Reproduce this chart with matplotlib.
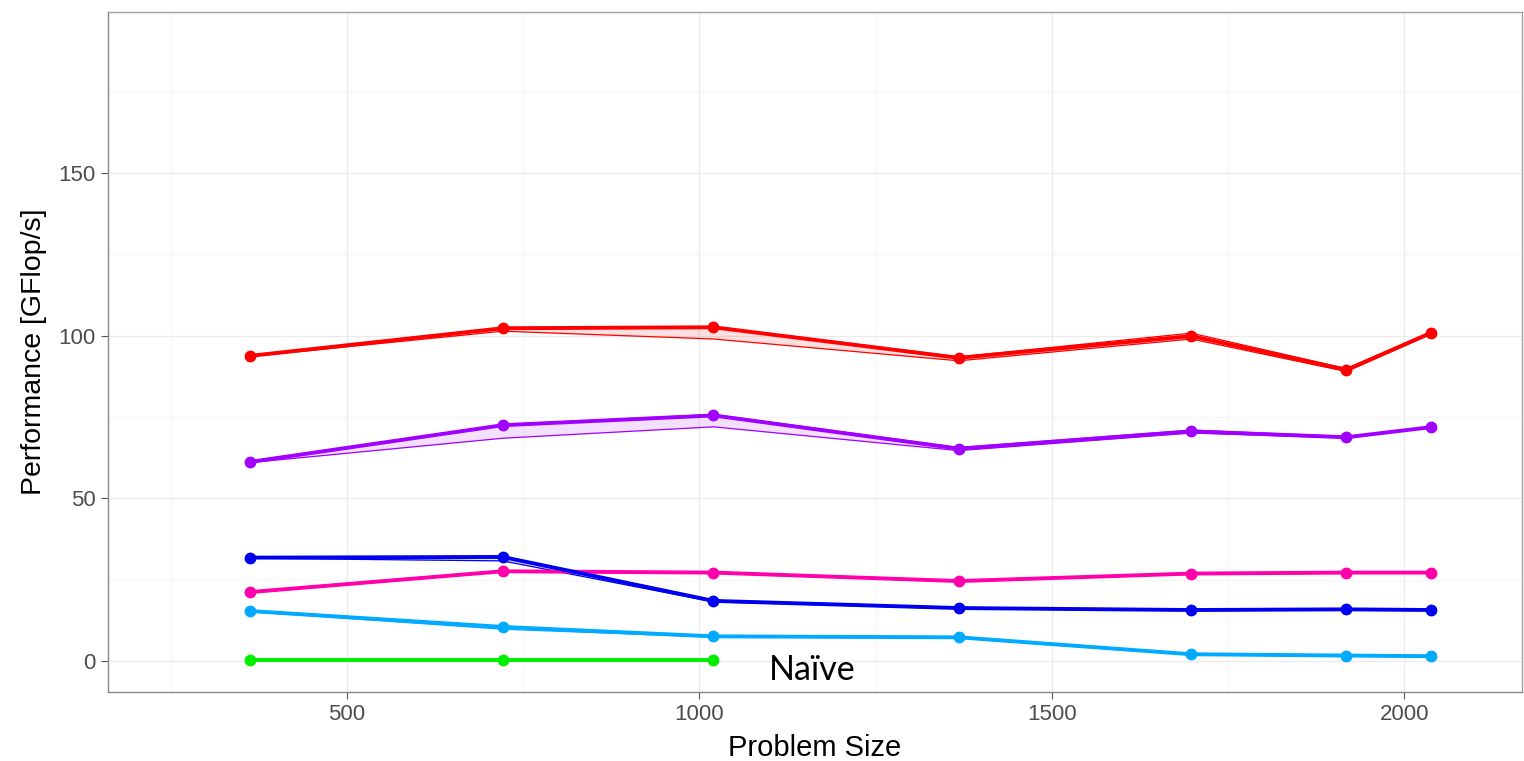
import matplotlib
matplotlib.use("Agg")
import matplotlib.pyplot as plt
from matplotlib.ticker import MultipleLocator

# problem sizes
sizes = [362, 721, 1020, 1368, 1698, 1918, 2038]

# per-variant performance: mean line, plus ribbon bounds (min / max)
red_mean = [93.8, 102.3, 102.6, 93.2, 99.9, 89.5, 100.9]
red_lo = [93.6, 101.4, 99.0, 92.3, 99.0, 89.0, 100.5]
red_hi = [94.0, 102.5, 102.8, 93.5, 100.8, 89.9, 101.1]

purple_mean = [61.2, 72.5, 75.5, 65.3, 70.6, 68.8, 71.9]
purple_lo = [61.0, 68.5, 72.0, 64.7, 70.1, 68.6, 71.8]
purple_hi = [61.4, 72.7, 75.8, 65.6, 71.0, 69.0, 72.0]

blue_mean = [31.8, 32.0, 18.5, 16.3, 15.7, 15.9, 15.7]
blue_lo = [31.6, 30.8, 18.2, 16.1, 15.5, 15.7, 15.6]
blue_hi = [32.0, 32.2, 18.7, 16.5, 15.9, 16.0, 15.8]

pink_mean = [21.2, 27.6, 27.2, 24.6, 26.9, 27.2, 27.2]
pink_lo = [21.0, 27.4, 27.0, 24.4, 26.7, 27.0, 27.0]
pink_hi = [21.4, 27.8, 27.4, 24.8, 27.1, 27.4, 27.4]

cyan_mean = [15.4, 10.5, 7.6, 7.3, 2.1, 1.7, 1.5]
cyan_lo = [15.2, 9.8, 7.4, 7.1, 1.9, 1.5, 1.3]
cyan_hi = [15.6, 10.7, 7.8, 7.5, 2.3, 1.9, 1.7]

naive_sizes = [362, 721, 1020]
naive_mean = [0.2, 0.2, 0.2]

series = [
    (sizes, red_mean, red_lo, red_hi, "#FF0000"),
    (sizes, purple_mean, purple_lo, purple_hi, "#A100FF"),
    (sizes, pink_mean, pink_lo, pink_hi, "#FF00AA"),
    (sizes, blue_mean, blue_lo, blue_hi, "#0000F0"),
    (sizes, cyan_mean, cyan_lo, cyan_hi, "#00AAFF"),
    (naive_sizes, naive_mean, naive_mean, naive_mean, "#00EE00"),
]

fig = plt.figure(figsize=(15.24, 7.61), dpi=100)
ax = fig.add_axes([108 / 1524, 1 - 692 / 761, 1414 / 1524, 680 / 761])

for x, m, lo, hi, c in series:
    ax.fill_between(x, lo, hi, color=c, alpha=0.12, linewidth=0)
    ax.plot(x, lo, color=c, lw=0.9)
    ax.plot(x, hi, color=c, lw=0.9)
    ax.plot(x, m, color=c, lw=2.8, marker="o", markersize=7.5, zorder=3)

ax.text(1160, -2.8, "Naïve", fontsize=24.5, family="Lato", ha="center", va="center")

ax.set_xlim(161, 2167)
ax.set_ylim(-9.5, 199.5)
ax.xaxis.set_major_locator(MultipleLocator(500))
ax.xaxis.set_minor_locator(MultipleLocator(250))
ax.yaxis.set_major_locator(MultipleLocator(50))
ax.yaxis.set_minor_locator(MultipleLocator(25))
ax.set_yticks([0, 50, 100, 150])

ax.grid(which="major", color="#EBEBEB", lw=1.0)
ax.grid(which="minor", color="#F5F5F5", lw=0.8)
ax.set_axisbelow(True)

for s in ax.spines.values():
    s.set_color("#A0A0A0")
    s.set_linewidth(1.0)
ax.spines["left"].set_color("#888888")
ax.spines["bottom"].set_color("#888888")

ax.tick_params(which="major", length=5, color="#555555", labelsize=16,
               labelcolor="#4D4D4D", pad=4)
ax.tick_params(which="minor", length=0)
for lab in ax.get_xticklabels() + ax.get_yticklabels():
    lab.set_family("Liberation Sans")

ax.set_xlabel("Problem Size", fontsize=21, family="Liberation Sans", labelpad=6)
ax.set_ylabel("Performance [GFlop/s]", fontsize=20.5, family="Liberation Sans", labelpad=8)

fig.savefig("out.png", dpi=100)
